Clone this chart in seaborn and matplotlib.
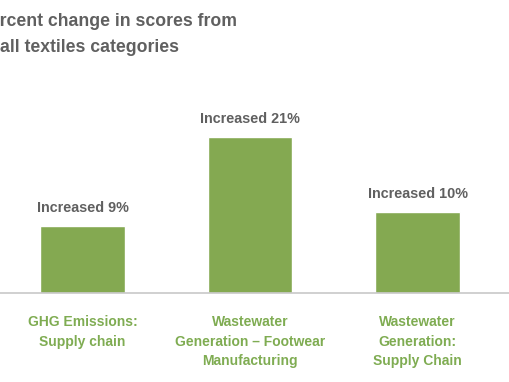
import matplotlib
matplotlib.use("Agg")
import matplotlib.pyplot as plt
import seaborn as sns
import pandas as pd

categories = ["GHG Emissions:\nSupply chain",
              "Wastewater\nGeneration \u2013 Footwear\nManufacturing",
              "Wastewater\nGeneration:\nSupply Chain"]
values = [9.0, 21.0, 10.9]
bar_labels = ["Increased 9%", "Increased 21%", "Increased 10%"]
title_line1 = "Percent change in scores from"
title_line2 = "all textiles categories"

sns.set_theme(style="white")
plt.rcParams['font.family'] = ['Liberation Sans', 'DejaVu Sans']

BAR = "#84a951"
GRAY = "#606060"
GREEN_TXT = "#7fac52"

fig = plt.figure(figsize=(5.10, 3.82), dpi=100)
ax = fig.add_axes([0, 89/382, 1, 193/382])

df = pd.DataFrame({"category": categories, "value": values})
sns.barplot(data=df, x="category", y="value", color=BAR, saturation=1,
            width=0.507, ax=ax)

ax.set_xlim(-0.4925, 2.552)
ax.set_ylim(0, 26)
for s in ["top", "left", "right"]:
    ax.spines[s].set_visible(False)
ax.spines["bottom"].set_color("#c8c8c8")
ax.spines["bottom"].set_linewidth(1.2)
ax.set_yticks([])
ax.set_xlabel("")
ax.set_ylabel("")
ax.tick_params(axis="x", length=0, pad=16)
for lab in ax.get_xticklabels():
    lab.set_color(GREEN_TXT)
    lab.set_fontweight("bold")
    lab.set_fontsize(10.0)
    lab.set_linespacing(1.5)
    lab.set_verticalalignment("top")

ax.bar_label(ax.containers[0], labels=bar_labels, padding=8,
             color=GRAY, fontweight="bold", fontsize=10.4)

fig.text(-21.5/510, 1 - 22/382, title_line1, fontsize=12.7, fontweight="bold",
         color=GRAY, ha="left", va="center")
fig.text(0/510, 1 - 47/382, title_line2, fontsize=12.7, fontweight="bold",
         color=GRAY, ha="left", va="center")

fig.savefig("out.png", dpi=100)
